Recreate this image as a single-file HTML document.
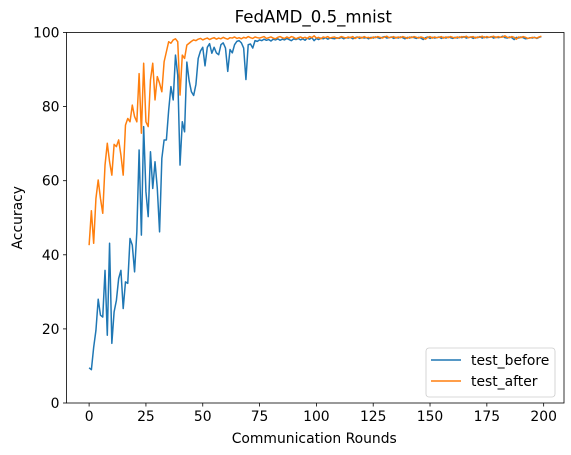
<!DOCTYPE html>
<html><head><meta charset="utf-8"><style>
html,body{margin:0;padding:0;background:#fff;}
svg{display:block;font-family:"DejaVu Sans","Liberation Sans",sans-serif;}
</style></head><body>
<svg id="chart" width="571" height="455" xmlns="http://www.w3.org/2000/svg"></svg>
<script>
const xTicks = [0,25,50,75,100,125,150,175,200];
const yTicks = [0,20,40,60,80,100];
const seriesNames = ["test_before","test_after"];
const testBefore = [9.5,9,15,19.6,28,23.7,23.2,35.8,18.3,43.1,16.1,24.6,27.7,33.6,35.8,25.5,32.7,32.3,44.4,42.6,35.4,46.2,68.3,45.3,74.6,57,50.3,67.8,57.9,65.1,57.9,46.2,66,71,71,79,85.4,81.8,93.9,88.5,64.2,75.9,73.2,92,87,84,83,86,93,95,96,91,96,97,94.4,96,94.5,94,96.7,97.2,95.8,89.5,95.4,94.5,96.7,97.6,97.8,97.2,95.8,87.3,96.7,96.9,95.8,97.8,
97.6,98.0,97.8,98.2,97.9,98.1,97.7,98.2,98.0,98.3,
97.9,98.2,98.0,98.4,98.1,97.8,98.3,98.1,98.4,98.0,
98.3,97.9,98.5,98.2,98.6,97.8,98.4,98.1,98.5,98.3,
98.6,98.2,98.5,98.4,98.3,98.6,98.4,98.7,98.3,98.6,
98.5,98.7,98.3,98.6,98.8,98.4,98.7,98.5,98.6,98.3,
98.7,98.5,98.8,98.6,98.4,98.7,98.9,98.5,98.6,98.8,
98.4,98.7,98.5,98.8,98.6,98.3,98.7,98.5,98.8,98.6,
98.4,98.7,98.5,98.1,98.6,98.8,98.4,98.7,98.5,98.6,
98.8,98.4,98.7,98.5,98.8,98.6,98.4,98.7,98.5,98.8,
98.6,98.9,98.5,98.7,98.8,98.4,98.7,98.6,98.9,98.5,
98.8,98.6,98.7,98.9,98.5,98.8,98.6,98.7,99.0,98.6,
98.5,98.8,98.6,98.1,98.7,98.5,98.8,98.6,98.3,98.4,
98.6,98.5,98.7,98.4,98.7,98.9];
const testAfter = [42.6,51.9,43.1,55.2,60.2,55.2,51.2,64.2,70.1,65.1,61.5,69.8,69.2,71.0,66.9,61.5,75.0,76.8,75.9,80.4,77.3,75.9,88.9,72.8,91.7,75.9,74.6,87.2,91.7,81.8,88.1,86.3,84.0,92.1,94.8,97.5,97.1,98.0,98.3,97.5,83.1,93.9,93.0,96.6,97.1,
97.6,98.0,97.8,98.2,98.4,98.0,98.3,98.5,98.1,98.4,
98.6,98.2,98.5,98.3,98.7,98.4,98.2,98.6,98.5,98.8,
98.4,98.6,98.3,98.7,98.5,98.9,98.6,98.4,98.8,98.6,
98.5,98.7,98.9,98.4,98.6,98.8,98.5,98.3,98.7,98.9,
98.6,98.4,98.8,98.5,98.9,98.7,98.3,98.6,98.8,98.5,
98.7,98.4,98.9,98.6,99.1,98.5,98.7,98.3,98.8,98.6,
98.9,98.5,98.7,98.8,98.4,98.6,98.9,98.7,98.5,98.8,
98.6,98.9,98.4,98.7,98.8,98.5,98.9,98.6,98.7,98.4,
98.8,98.6,98.9,98.7,98.5,98.8,99.0,98.6,98.7,98.9,
98.5,98.8,98.6,98.9,98.7,98.4,98.8,98.6,98.9,98.7,
98.5,98.8,98.6,98.2,98.7,98.9,98.5,98.8,98.6,98.7,
98.9,98.5,98.8,98.6,98.9,98.7,98.5,98.8,98.6,98.9,
98.7,99.0,98.6,98.8,98.9,98.5,98.8,98.7,99.0,98.6,
98.9,98.7,98.8,99.0,98.6,98.9,98.7,98.8,99.1,98.7,
98.6,98.9,98.7,98.2,98.8,98.6,98.9,98.7,98.4,98.5,
98.7,98.6,98.5,98.8,99.0];

const NS = "http://www.w3.org/2000/svg";
const svg = document.getElementById('chart');
const L = 66.5, R = 564, T = 32.5, B = 403;
const xMin = -9.95, xMax = 208.95, yMin = 0, yMax = 100;
const FS = "13.9px";
function sx(v){ return L + (v - xMin) / (xMax - xMin) * (R - L); }
function sy(v){ return B - (v - yMin) / (yMax - yMin) * (B - T); }
function mk(tag, attrs, parent){
  const e = document.createElementNS(NS, tag);
  for (const k in attrs) e.setAttribute(k, attrs[k]);
  (parent || svg).appendChild(e);
  return e;
}

const lineColors = ["#1f77b4", "#ff7f0e"];
[testBefore, testAfter].forEach((arr, s) => {
  const d = arr.map((v, i) => (i ? "L" : "M") + sx(i).toFixed(2) + "," + sy(v).toFixed(2)).join(" ");
  const p = mk('path', {d: d, fill: "none", stroke: lineColors[s], "stroke-width": 1.5, "stroke-linejoin": "round"});
  
  
});

const frame = mk('rect', {x: L, y: T, width: R - L, height: B - T, fill: "none", stroke: "#000", "stroke-width": 0.8});



xTicks.forEach(t => {
  const x = sx(t);
  mk('line', {x1: x, x2: x, y1: B, y2: B + 3.5, stroke: "#000", "stroke-width": 0.8});
  const tx = mk('text', {x: x, y: B + 18, "text-anchor": "middle", "font-size": FS, fill: "#000"});
  tx.textContent = t;
  
  
});
yTicks.forEach(t => {
  const y = sy(t);
  mk('line', {x1: L - 3.5, x2: L, y1: y, y2: y, stroke: "#000", "stroke-width": 0.8});
  const tx = mk('text', {x: L - 7, y: y + 5, "text-anchor": "end", "font-size": FS, fill: "#000"});
  tx.textContent = t;
  
  
});

const title = mk('text', {x: (L + R) / 2 - 2, y: 22.5, "text-anchor": "middle", "font-size": "16.6px", fill: "#000"});
title.textContent = "FedAMD_0.5_mnist";



const xl = mk('text', {x: (L + R) / 2 - 1, y: 443, "text-anchor": "middle", "font-size": FS, fill: "#000"});
xl.textContent = "Communication Rounds";



const yl = mk('text', {x: 0, y: 0, "text-anchor": "middle", "font-size": FS, fill: "#000", transform: "translate(22," + ((T + B) / 2) + ") rotate(-90)"});
yl.textContent = "Accuracy";



const lg = mk('g', {});


mk('rect', {x: 426, y: 348, width: 129, height: 49, rx: 3, fill: "#fff", "fill-opacity": 0.8, stroke: "#ccc", "stroke-width": 0.8}, lg);
seriesNames.forEach((n, i) => {
  const y = 360 + i * 21;
  const e = mk('g', {}, lg);
  
  
  mk('line', {x1: 431, x2: 461, y1: y, y2: y, stroke: lineColors[i], "stroke-width": 1.5}, e);
  const t = mk('text', {x: 471, y: y + 5, "font-size": FS, fill: "#000"}, e);
  t.textContent = n;
});
</script>
</body></html>
